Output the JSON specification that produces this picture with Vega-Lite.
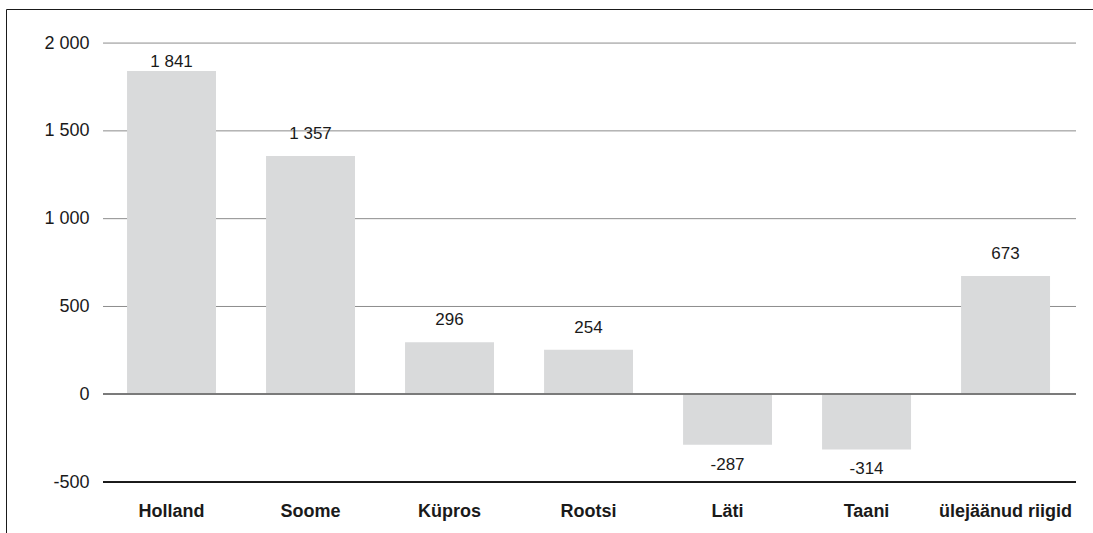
{
  "$schema": "https://vega.github.io/schema/vega-lite/v6.json",
  "width": 1087,
  "height": 524,
  "autosize": {"type": "none"},
  "padding": {"left": 6, "top": 9, "right": 0, "bottom": 0},
  "background": "white",
  "data": {
    "values": [
      {"riik": "Holland", "v": 1841},
      {"riik": "Soome", "v": 1357},
      {"riik": "Küpros", "v": 296},
      {"riik": "Rootsi", "v": 254},
      {"riik": "Läti", "v": -287},
      {"riik": "Taani", "v": -314},
      {"riik": "ülejäänud riigid", "v": 673}
    ]
  },
  "transform": [
    {"calculate": "(datum.v < 0 ? '-' : '') + replace(format(abs(datum.v), ','), ',', ' ')", "as": "lbl"},
    {"calculate": "min(datum.v, 1767)", "as": "ly"}
  ],
  "layer": [
    {
      "data": {"values": [{"g": 500}, {"g": 1000}, {"g": 1500}, {"g": 2000}]},
      "transform": [],
      "mark": {"type": "rule", "color": "#8c8c8c", "strokeWidth": 1},
      "encoding": {
        "x": {"datum": "Holland", "bandPosition": -0.27, "type": "nominal",
          "axis": {"orient": "top", "title": null, "labels": false, "ticks": false, "domain": true, "domainColor": "#1a1a1a", "domainWidth": 1, "grid": false}},
        "x2": {"datum": "ülejäänud riigid", "bandPosition": 1.292},
        "y": {"field": "g", "type": "quantitative", "title": null,
          "scale": {"domain": [-790, 2194], "nice": false, "zero": false},
          "axis": {"values": [-500, 0, 500, 1000, 1500, 2000]}}
      }
    },
    {
      "mark": {"type": "rule", "color": "#1a1a1a", "strokeWidth": 1},
      "encoding": {
        "x": {"datum": "Holland", "bandPosition": -0.27, "type": "nominal", "axis": null},
        "x2": {"datum": "ülejäänud riigid", "bandPosition": 1.292},
        "y": {"datum": -500, "type": "quantitative", "title": null}
      }
    },
    {
      "mark": {"type": "bar", "color": "#d9dadb"},
      "encoding": {
        "x": {"field": "riik", "type": "nominal", "sort": null,
          "scale": {"domain": ["Holland", "Soome", "Küpros", "Rootsi", "Läti", "Taani", "ülejäänud riigid"],
            "paddingInner": 0.36, "paddingOuter": 0.59, "align": 0.738},
          "axis": {"orient": "bottom", "title": null, "domain": false, "ticks": false, "grid": false, "labelAngle": 0,
            "labelFontWeight": "bold", "labelFontSize": 18, "labelColor": "#1a1a1a", "labelBaseline": "alphabetic",
            "labelPadding": 0, "offset": -17}},
        "y": {"field": "v", "type": "quantitative", "title": null},
        "y2": {"datum": 0}
      }
    },
    {
      "mark": {"type": "rule", "color": "#7a7a7a", "strokeWidth": 1.6},
      "encoding": {
        "x": {"datum": "Holland", "bandPosition": -0.27, "type": "nominal", "axis": null},
        "x2": {"datum": "ülejäänud riigid", "bandPosition": 1.292},
        "y": {"datum": 0, "type": "quantitative", "title": null}
      }
    },
    {
      "transform": [{"filter": "datum.v >= 0"}],
      "mark": {"type": "text", "fontSize": 17, "color": "#1a1a1a", "baseline": "alphabetic", "dy": -17},
      "encoding": {
        "x": {"field": "riik", "type": "nominal", "axis": null, "sort": null},
        "y": {"field": "ly", "type": "quantitative", "title": null},
        "text": {"field": "lbl"}
      }
    },
    {
      "transform": [{"filter": "datum.v < 0"}],
      "mark": {"type": "text", "fontSize": 17, "color": "#1a1a1a", "baseline": "alphabetic", "dy": 25},
      "encoding": {
        "x": {"field": "riik", "type": "nominal", "axis": null, "sort": null},
        "y": {"field": "v", "type": "quantitative", "title": null},
        "text": {"field": "lbl"}
      }
    }
  ],
  "resolve": {"axis": {"x": "independent"}},
  "config": {
    "font": "Liberation Sans",
    "view": {"stroke": null},
    "axisY": {
      "orient": "left", "grid": false, "ticks": false,
      "domain": true, "domainColor": "#1a1a1a", "domainWidth": 1, "labelPadding": -83, "labelFontSize": 18, "labelColor": "#1a1a1a",
      "labelExpr": "(datum.value < 0 ? '-' : '') + replace(format(abs(datum.value), ','), ',', ' ')"
    }
  }
}
